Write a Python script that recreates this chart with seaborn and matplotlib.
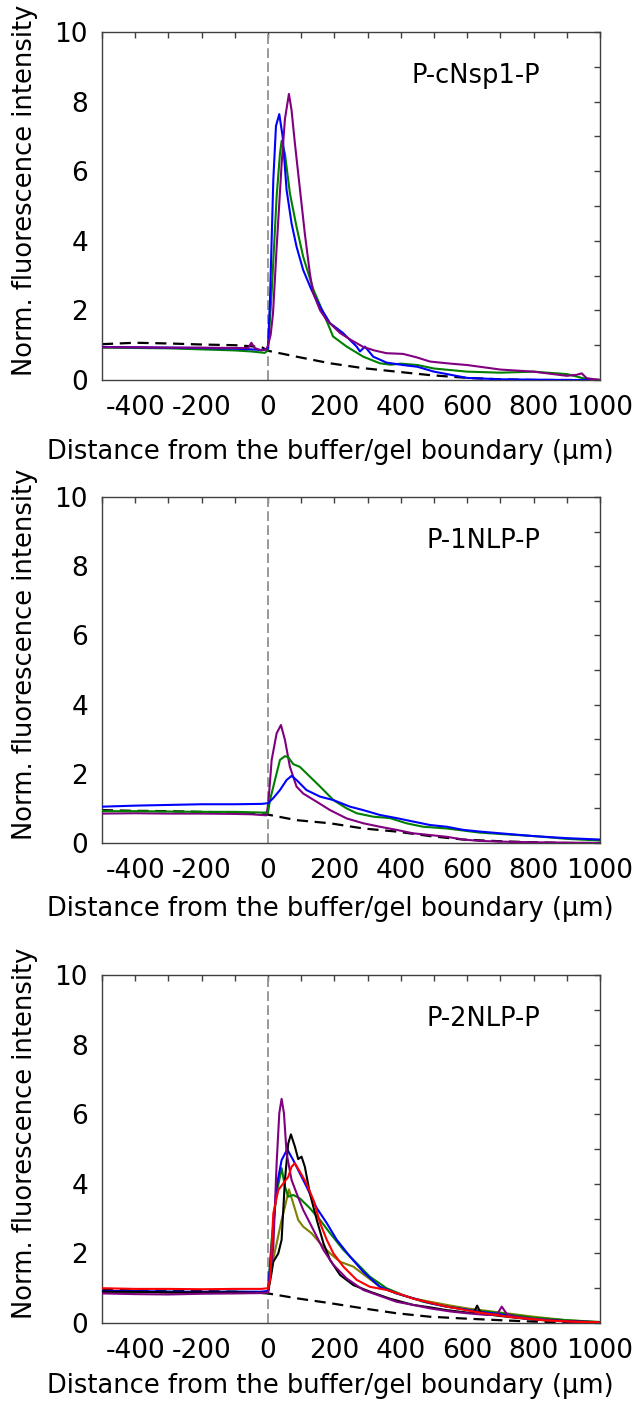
import numpy as np
import pandas as pd
import matplotlib
matplotlib.use("Agg")
import matplotlib.pyplot as plt
from matplotlib.ticker import MultipleLocator
import seaborn as sns

# ---------------- data ----------------
xlabel_text = "Distance from the buffer/gel boundary (\u03bcm)"
ylabel_text = "Norm. fluorescence intensity"
panel_titles = ["P-cNsp1-P", "P-1NLP-P", "P-2NLP-P"]
x_ticks = [-400, -200, 0, 200, 400, 600, 800, 1000]
y_ticks = [0, 2, 4, 6, 8, 10]

# Panel 1: P-cNsp1-P
p1_green_x = [-500, -400, -300, -200, -100, -50, -10, 0, 11, 26, 36, 41, 51, 66, 86, 106, 137, 167, 196, 237, 287, 337, 370, 400, 450, 500, 600, 700, 800, 900, 950, 1000]
p1_green_y = [0.93, 0.92, 0.91, 0.88, 0.85, 0.82, 0.78, 0.85, 2.5, 5.27, 6.5, 6.87, 6.5, 5.36, 4.4, 3.54, 2.59, 1.92, 1.25, 0.96, 0.67, 0.48, 0.44, 0.47, 0.43, 0.33, 0.24, 0.21, 0.24, 0.17, 0.05, 0.0]
p1_blue_x = [-500, -400, -300, -200, -100, -50, -20, 0, 6, 16, 24, 34, 44, 56, 71, 86, 106, 131, 157, 187, 226, 267, 277, 292, 317, 357, 407, 450, 500, 550, 600, 700, 800, 900, 1000]
p1_blue_y = [0.95, 0.94, 0.93, 0.92, 0.9, 0.88, 0.86, 0.9, 2.3, 5.75, 7.3, 7.64, 7.0, 5.46, 4.5, 3.83, 3.16, 2.59, 2.1, 1.63, 1.35, 0.96, 0.82, 0.96, 0.67, 0.5, 0.43, 0.38, 0.24, 0.15, 0.06, 0.02, 0.01, 0.0, 0.0]
p1_purple_x = [-500, -400, -300, -200, -100, -60, -50, -40, -20, -5, 0, 8, 15, 26, 41, 51, 63, 71, 81, 96, 111, 126, 136, 157, 177, 217, 250, 287, 320, 357, 407, 448, 488, 550, 600, 700, 800, 900, 930, 945, 960, 1000]
p1_purple_y = [0.94, 0.94, 0.93, 0.93, 0.92, 0.92, 1.07, 0.92, 0.85, 0.88, 1.0, 1.3, 1.9, 3.8, 6.2, 7.5, 8.22, 7.75, 6.8, 5.5, 4.2, 3.07, 2.5, 2.0, 1.72, 1.35, 1.15, 0.95, 0.85, 0.77, 0.75, 0.65, 0.53, 0.47, 0.43, 0.3, 0.24, 0.12, 0.15, 0.19, 0.05, 0.0]
p1_ref_x = [-500, -400, -300, -200, -100, -20, 0, 86, 187, 287, 387, 488, 600, 700, 800, 900, 1000]
p1_ref_y = [1.03, 1.07, 1.05, 1.02, 1.0, 0.95, 0.84, 0.67, 0.48, 0.34, 0.24, 0.14, 0.06, 0.02, 0.0, 0.0, 0.0]

# Panel 2: P-1NLP-P
p2_purple_x = [-500, -400, -300, -200, -100, -50, -5, 1, 11, 26, 39, 51, 66, 86, 106, 147, 187, 237, 287, 337, 387, 437, 488, 538, 588, 638, 700, 800, 900, 1000]
p2_purple_y = [0.85, 0.86, 0.85, 0.85, 0.84, 0.83, 0.8, 1.15, 2.4, 3.17, 3.41, 2.98, 2.2, 1.63, 1.43, 1.19, 0.95, 0.71, 0.57, 0.47, 0.38, 0.28, 0.23, 0.18, 0.1, 0.06, 0.04, 0.02, 0.01, 0.0]
p2_green_x = [-500, -400, -300, -200, -100, -20, 0, 6, 21, 36, 51, 61, 76, 96, 126, 157, 197, 237, 267, 317, 367, 417, 467, 538, 638, 700, 800, 900, 1000]
p2_green_y = [0.92, 0.92, 0.91, 0.9, 0.9, 0.88, 0.88, 1.24, 1.82, 2.4, 2.51, 2.48, 2.28, 2.2, 1.92, 1.63, 1.24, 1.0, 0.86, 0.76, 0.72, 0.57, 0.47, 0.42, 0.3, 0.26, 0.2, 0.12, 0.07]
p2_blue_x = [-500, -400, -300, -200, -100, -20, 0, 16, 36, 56, 71, 86, 116, 157, 197, 247, 287, 337, 387, 437, 488, 538, 588, 638, 700, 800, 900, 1000]
p2_blue_y = [1.05, 1.08, 1.1, 1.12, 1.12, 1.13, 1.15, 1.3, 1.53, 1.82, 1.94, 1.82, 1.53, 1.34, 1.24, 1.05, 0.95, 0.81, 0.72, 0.62, 0.52, 0.47, 0.38, 0.33, 0.28, 0.2, 0.14, 0.1]
p2_ref_x = [-500, -400, -300, -200, -100, 0, 86, 187, 287, 387, 488, 588, 700, 800, 900, 1000]
p2_ref_y = [0.95, 0.93, 0.92, 0.9, 0.88, 0.82, 0.66, 0.57, 0.42, 0.33, 0.2, 0.1, 0.05, 0.02, 0.0, 0.0]

# Panel 3: P-2NLP-P
p3_olive_x = [-500, -400, -300, -200, -100, -20, 0, 11, 26, 41, 51, 63, 76, 91, 106, 131, 157, 187, 217, 257, 297, 337, 387, 437, 488, 550, 600, 700, 800, 900, 1000]
p3_olive_y = [0.88, 0.9, 0.87, 0.88, 0.86, 0.87, 0.88, 1.62, 2.29, 2.96, 3.34, 3.84, 3.44, 2.96, 2.77, 2.58, 2.29, 2.0, 1.76, 1.62, 1.33, 1.04, 0.85, 0.71, 0.61, 0.5, 0.42, 0.3, 0.18, 0.08, 0.02]
p3_green_x = [-500, -400, -300, -200, -100, -20, 0, 11, 26, 41, 51, 61, 76, 96, 126, 157, 187, 227, 267, 307, 357, 407, 468, 538, 600, 700, 800, 900, 1000]
p3_green_y = [0.9, 0.88, 0.9, 0.88, 0.9, 0.88, 0.9, 2.39, 3.73, 4.45, 3.92, 3.63, 3.68, 3.58, 3.3, 2.96, 2.58, 2.1, 1.72, 1.33, 1.0, 0.8, 0.61, 0.47, 0.38, 0.28, 0.15, 0.08, 0.03]
p3_blue_x = [-500, -400, -300, -200, -100, -20, 0, 11, 26, 41, 58, 76, 96, 116, 147, 177, 207, 247, 287, 337, 387, 437, 488, 538, 588, 638, 700, 739, 800, 900, 1000]
p3_blue_y = [0.92, 0.92, 0.9, 0.9, 0.9, 0.9, 0.92, 2.19, 3.92, 4.68, 4.99, 4.68, 4.3, 3.92, 3.3, 2.87, 2.39, 1.91, 1.47, 1.04, 0.85, 0.71, 0.57, 0.47, 0.4, 0.32, 0.25, 0.17, 0.1, 0.05, 0.02]
p3_black_x = [-500, -400, -300, -200, -100, -20, 0, 10, 16, 31, 41, 51, 61, 69, 81, 91, 101, 111, 126, 147, 167, 187, 217, 257, 307, 367, 437, 488, 538, 600, 620, 630, 640, 660, 700, 800, 900, 1000]
p3_black_y = [0.9, 0.9, 0.88, 0.88, 0.88, 0.87, 0.88, 1.4, 1.76, 2.0, 2.39, 4.11, 5.16, 5.42, 5.07, 4.71, 4.78, 4.49, 3.73, 2.96, 2.29, 1.81, 1.38, 1.09, 0.9, 0.7, 0.52, 0.45, 0.37, 0.3, 0.3, 0.5, 0.3, 0.25, 0.2, 0.1, 0.05, 0.01]
p3_purple_x = [-500, -400, -300, -200, -100, -20, 0, 16, 26, 34, 41, 48, 56, 71, 86, 106, 137, 167, 197, 237, 287, 337, 387, 437, 488, 550, 600, 660, 690, 704, 720, 750, 800, 900, 1000]
p3_purple_y = [0.85, 0.83, 0.82, 0.84, 0.85, 0.86, 0.88, 2.19, 4.59, 6.03, 6.44, 6.03, 4.88, 4.11, 3.73, 3.25, 2.67, 2.1, 1.67, 1.28, 0.95, 0.78, 0.61, 0.52, 0.42, 0.33, 0.28, 0.23, 0.25, 0.47, 0.25, 0.18, 0.12, 0.05, 0.02]
p3_red_x = [-500, -400, -300, -200, -100, -20, 0, 6, 16, 31, 46, 61, 71, 81, 96, 116, 137, 157, 177, 197, 227, 267, 307, 357, 407, 437, 538, 638, 739, 839, 940, 1000]
p3_red_y = [1.0, 0.98, 0.98, 0.97, 0.98, 0.98, 1.0, 1.24, 3.15, 3.82, 4.01, 4.2, 4.49, 4.59, 4.35, 4.01, 3.53, 2.87, 2.39, 2.0, 1.62, 1.24, 1.04, 0.95, 0.8, 0.7, 0.47, 0.3, 0.16, 0.07, 0.03, 0.02]
p3_ref_x = [-500, -400, -300, -200, -100, 0, 86, 187, 287, 387, 488, 588, 700, 800, 900, 1000]
p3_ref_y = [0.95, 0.94, 0.93, 0.92, 0.9, 0.85, 0.71, 0.57, 0.42, 0.28, 0.18, 0.13, 0.08, 0.04, 0.02, 0.0]

# colours
C_BLUE, C_GREEN, C_PURPLE = "#0000FF", "#008000", "#800080"
C_BLACK, C_RED, C_OLIVE = "#000000", "#FF0000", "#808000"

panels = [
    [(p1_green_x, p1_green_y, C_GREEN), (p1_blue_x, p1_blue_y, C_BLUE), (p1_purple_x, p1_purple_y, C_PURPLE)],
    [(p2_purple_x, p2_purple_y, C_PURPLE), (p2_green_x, p2_green_y, C_GREEN), (p2_blue_x, p2_blue_y, C_BLUE)],
    [(p3_olive_x, p3_olive_y, C_OLIVE), (p3_green_x, p3_green_y, C_GREEN), (p3_blue_x, p3_blue_y, C_BLUE),
     (p3_black_x, p3_black_y, C_BLACK), (p3_purple_x, p3_purple_y, C_PURPLE), (p3_red_x, p3_red_y, C_RED)],
]
refs = [(p1_ref_x, p1_ref_y), (p2_ref_x, p2_ref_y), (p3_ref_x, p3_ref_y)]

# ---------------- style ----------------
sns.set_theme(style="white")
plt.rcParams["font.family"] = ["DejaVu Sans"]
plt.rcParams["axes.unicode_minus"] = False
plt.rcParams["axes.edgecolor"] = "#404040"
plt.rcParams["axes.linewidth"] = 1.0

FS = 19
FS_LAB = 18.5
W, H = 635, 1405
fig = plt.figure(figsize=(W / 100, H / 100), dpi=100)
fig.patch.set_facecolor("white")

# axes pixel boxes: (left, top, right, bottom)
boxes = [(102, 32, 600, 380), (102, 497, 600, 843), (102, 975, 600, 1323)]
xlabel_y = [-0.17, -0.153, -0.145]

for i, (l, t, r, b) in enumerate(boxes):
    ax = fig.add_axes([l / W, (H - b) / H, (r - l) / W, (b - t) / H])
    ax.set_facecolor("white")
    ax.axvline(0, color="#999999", lw=1.4, ls=(0, (5, 2.2)), zorder=1)
    rx, ry = refs[i]
    sns.lineplot(x=rx, y=ry, ax=ax, color="black", lw=1.6, ls=(0, (5, 3)),
                 estimator=None, sort=False, zorder=2)
    for xs, ys, col in panels[i]:
        sns.lineplot(x=xs, y=ys, ax=ax, color=col, lw=1.5, estimator=None,
                     sort=False, zorder=3)
    ax.set_xlim(-500, 1000)
    ax.set_ylim(0, 10)
    ax.set_xticks(x_ticks)
    ax.set_yticks(y_ticks)
    ax.xaxis.set_minor_locator(MultipleLocator(100))
    ax.yaxis.set_minor_locator(MultipleLocator(1))
    ax.tick_params(which="both", direction="in", top=True, right=True,
                   length=4, width=1, color="#404040", labelsize=FS,
                   labelcolor="black")
    ax.tick_params(axis="x", which="major", pad=11)
    ax.tick_params(axis="y", which="major", pad=10)
    for s in ax.spines.values():
        s.set_visible(True)
        s.set_color("#404040")
        s.set_linewidth(1.0)
    ax.set_xlabel(xlabel_text, fontsize=FS_LAB, color="black")
    ax.set_ylabel(ylabel_text, fontsize=FS_LAB, color="black")
    ax.xaxis.set_label_coords(0.458, xlabel_y[i])
    ax.yaxis.set_label_coords(-0.128, 0.546)
    ax.text(0.88, 0.873, panel_titles[i], transform=ax.transAxes,
            ha="right", va="center", fontsize=FS_LAB, color="black")
    ax.grid(False)

fig.savefig("out.png", dpi=100, facecolor="white")
